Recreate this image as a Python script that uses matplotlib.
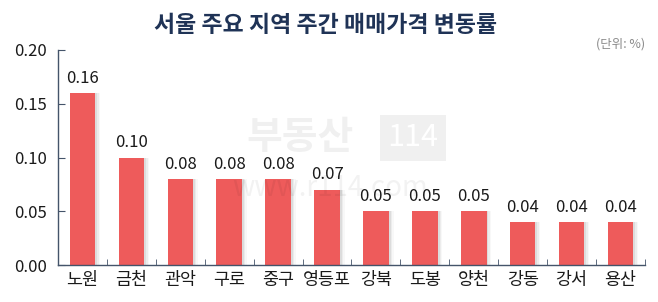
import matplotlib
matplotlib.use("Agg")
import matplotlib.pyplot as plt
import numpy as np

plt.rcParams['font.family'] = ['Noto Sans CJK KR', 'DejaVu Sans']

categories = ['노원', '금천', '관악', '구로', '중구', '영등포', '강북', '도봉', '양천', '강동', '강서', '용산']
values = [0.16, 0.10, 0.08, 0.08, 0.08, 0.07, 0.05, 0.05, 0.05, 0.04, 0.04, 0.04]
yticks = [0.00, 0.05, 0.10, 0.15, 0.20]
title = '서울 주요 지역 주간 매매가격 변동률'
unit = '(단위: %)'

fig = plt.figure(figsize=(6.58, 3.02), dpi=100)
ax = fig.add_axes([58/658, 1-265/302, (645-58)/658, (265-50)/302])

x = np.arange(len(categories))
bw = 0.52
# soft shadow
for k, a in enumerate([0.10, 0.07, 0.04]):
    ax.bar(x + 0.04 + 0.03*k, values, width=bw, color='#555555', alpha=a, zorder=1, linewidth=0)
ax.bar(x, values, width=bw, color='#EE5B5B', zorder=2, linewidth=0)

for xi, v in zip(x, values):
    ax.text(xi, v + 0.006, f'{v:.2f}', ha='center', va='bottom', fontsize=12, color='#1a1a1a', zorder=5)

ax.set_xlim(-0.5, len(categories) - 0.5)
ax.set_ylim(0, 0.2)
ax.set_yticks(yticks)
ax.set_yticklabels([f'{t:.2f}' for t in yticks], fontsize=12, color='#1a1a1a')
ax.set_xticks(x)
ax.set_xticklabels(categories, fontsize=12.5, color='#1a1a1a')
ax.tick_params(axis='x', length=0, pad=4)
ax.set_xticks(np.arange(len(categories) + 1) - 0.5, minor=True)
ax.tick_params(axis='x', which='minor', direction='in', length=4, color='#44546A')
ax.tick_params(axis='y', direction='in', length=5, color='#44546A', pad=8)

for s in ['top', 'right']:
    ax.spines[s].set_visible(False)
for s in ['left', 'bottom']:
    ax.spines[s].set_color('#44546A')
    ax.spines[s].set_linewidth(1.0)

# watermark
fig.text(300/658, 1-137/302, '부동산', fontsize=28, fontweight='bold', color='#000000', alpha=0.06,
         ha='center', va='center', zorder=0)
fig.text(413/658, 1-138/302, '114', fontsize=22, color='white', ha='center', va='center', zorder=0,
         bbox=dict(boxstyle='square,pad=0.25', facecolor='#000000', alpha=0.06, edgecolor='none'))
fig.text(330/658, 1-188/302, 'www.r114.com', fontsize=20, color='#000000', alpha=0.05,
         ha='center', va='center', zorder=0)

fig.text(326/658, 1-25/302, title, fontsize=16.5, fontweight='bold', color='#1F3356', ha='center', va='center')
fig.text(645/658, 1-44/302, unit, fontsize=9, color='#8a8a8a', ha='right', va='center')

fig.savefig('out.png', dpi=100, facecolor='white')
